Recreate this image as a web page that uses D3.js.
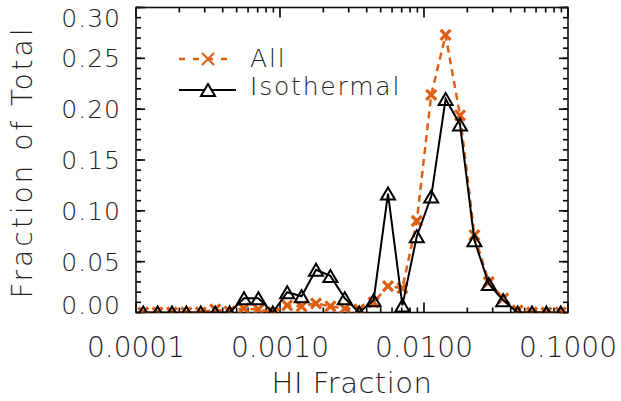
<!DOCTYPE html>
<html>
<head>
<meta charset="utf-8">
<script src="https://cdn.jsdelivr.net/npm/d3@7"></script>
<style>
  body { margin: 0; background: #fff; }
  text { font-family: "DejaVu Sans", sans-serif; font-weight: 200; fill: #222; }
</style>
</head>
<body>
<svg id="chart" width="621" height="401"></svg>
<script>
// log10 of HI fraction, bin centres (0.1 dex bins)
const logBins = [-3.95, -3.85, -3.75, -3.65, -3.55, -3.45, -3.35, -3.25, -3.15, -3.05,
                 -2.95, -2.85, -2.75, -2.65, -2.55, -2.45, -2.35, -2.25, -2.15, -2.05,
                 -1.95, -1.85, -1.75, -1.65, -1.55, -1.45, -1.35, -1.25, -1.15, -1.05];
const allFrac = [0, 0, 0, 0, 0, 0.003, 0.001, 0.004, 0.003, 0,
                 0.007, 0.006, 0.009, 0.006, 0.004, 0.003, 0.010, 0.026, 0.024, 0.090,
                 0.214, 0.273, 0.194, 0.076, 0.030, 0.014, 0.002, 0, 0, 0];
const isoFrac = [0, 0, 0, 0, 0, 0, 0, 0.014, 0.014, 0,
                 0.020, 0.016, 0.042, 0.036, 0.014, 0, 0.012, 0.117, 0.007, 0.075,
                 0.114, 0.210, 0.185, 0.071, 0.028, 0.012, 0, 0, 0, 0];
const xMajor = [0.0001, 0.001, 0.01, 0.1];
const yMajor = [0, 0.05, 0.10, 0.15, 0.20, 0.25, 0.30];

const ORANGE = "#dc6014";
const svg = d3.select("#chart");

const x = d3.scaleLog().domain([1e-4, 1e-1]).range([136, 568]);
const y = d3.scaleLinear().domain([0, 0.3]).range([312.5, 7.5]);
const [x0, x1] = x.range();
const [y0, y1] = y.range();

const xMinor = x.ticks().filter((v) => !xMajor.some((m) => Math.abs(v / m - 1) < 1e-6));
const yMinor = y.ticks(30);

// clip for data
svg.append("clipPath").attr("id", "plotclip")
  .append("rect")
  .attr("x", x0).attr("y", y1)
  .attr("width", x1 - x0)
  .attr("height", y0 - y1);

// tick marks on all four sides, pointing inward
const tickG = svg.append("g").attr("stroke", "#000").attr("stroke-width", 1.6);
function xTicks(values, len) {
  tickG.append("g").selectAll("line").data(values).join("line")
    .attr("x1", (d) => x(d)).attr("x2", (d) => x(d))
    .attr("y1", y0).attr("y2", y0 - len);
  tickG.append("g").selectAll("line").data(values).join("line")
    .attr("x1", (d) => x(d)).attr("x2", (d) => x(d))
    .attr("y1", y1).attr("y2", y1 + len);
}
function yTicks(values, len) {
  tickG.append("g").selectAll("line").data(values).join("line")
    .attr("y1", (d) => y(d)).attr("y2", (d) => y(d))
    .attr("x1", x0).attr("x2", x0 + len);
  tickG.append("g").selectAll("line").data(values).join("line")
    .attr("y1", (d) => y(d)).attr("y2", (d) => y(d))
    .attr("x1", x1).attr("x2", x1 - len);
}
xTicks(xMajor, 10);
xTicks(xMinor, 5);
yTicks(yMajor, 9);
yTicks(yMinor, 5);

svg.append("rect")
  .attr("x", x0).attr("y", y1)
  .attr("width", x1 - x0).attr("height", y0 - y1)
  .attr("fill", "none").attr("stroke", "#111").attr("stroke-width", 1.6);

// tick labels
svg.append("g").selectAll("text").data(xMajor).join("text")
  .attr("x", (d) => x(d)).attr("y", 357)
  .attr("text-anchor", "middle")
  .style("font-size", "28px")
  .text(d3.format(".4f"));

svg.append("g").selectAll("text").data(yMajor).join("text")
  .attr("x", 121)
  .attr("y", (d) => Math.max(18, Math.min(305, y(d))))
  .attr("dy", "0.36em")
  .attr("text-anchor", "end")
  .style("font-size", "25px")
  .style("letter-spacing", "1px")
  .text(d3.format(".2f"));

// axis titles
svg.append("text")
  .attr("x", 352).attr("y", 393)
  .attr("text-anchor", "middle")
  .style("font-size", "29px")
  .style("letter-spacing", "0.5px")
  .text("HI Fraction");

svg.append("text")
  .attr("transform", "translate(32,162) rotate(-90)")
  .attr("text-anchor", "middle")
  .style("font-size", "28px")
  .style("letter-spacing", "3px")
  .text("Fraction of Total");

// markers
const xMark = "M-5,-5L5,5M-5,5L5,-5";
const triMark = "M-7,6L0,-6L7,6Z";

const line = d3.line().x((d) => x(Math.pow(10, d[0]))).y((d) => y(d[1]));
const plot = svg.append("g").attr("clip-path", "url(#plotclip)");

const allPts = logBins.map((b, i) => [b, allFrac[i]]);
const isoPts = logBins.map((b, i) => [b, isoFrac[i]]);

plot.append("path").datum(allPts)
  .attr("d", line).attr("fill", "none")
  .attr("stroke", ORANGE).attr("stroke-width", 2.5)
  .attr("stroke-dasharray", "7,5");
plot.append("g").selectAll("path").data(allPts).join("path")
  .attr("transform", (d) => `translate(${x(Math.pow(10, d[0]))},${y(d[1])})`)
  .attr("d", xMark).attr("stroke", ORANGE).attr("stroke-width", 3.2).attr("fill", "none");

plot.append("path").datum(isoPts)
  .attr("d", line).attr("fill", "none")
  .attr("stroke", "#000").attr("stroke-width", 2);
plot.append("g").selectAll("path").data(isoPts).join("path")
  .attr("transform", (d) => `translate(${x(Math.pow(10, d[0]))},${y(d[1])})`)
  .attr("d", triMark).attr("stroke", "#000").attr("stroke-width", 2).attr("fill", "none");

// legend
const legend = svg.append("g");
legend.append("line").attr("x1", 179).attr("x2", 233).attr("y1", 59).attr("y2", 59)
  .attr("stroke", ORANGE).attr("stroke-width", 2.5).attr("stroke-dasharray", "6,8");
legend.append("path").attr("transform", "translate(208,59)").attr("d", "M-6,-6L6,6M-6,6L6,-6")
  .attr("stroke", ORANGE).attr("stroke-width", 2).attr("fill", "none");
legend.append("text").attr("x", 250).attr("y", 67)
  .style("font-size", "25px").style("letter-spacing", "1.8px").text("All");

legend.append("line").attr("x1", 179).attr("x2", 236).attr("y1", 90).attr("y2", 90)
  .attr("stroke", "#000").attr("stroke-width", 2);
legend.append("path").attr("transform", "translate(208,90)").attr("d", triMark)
  .attr("stroke", "#000").attr("stroke-width", 2).attr("fill", "#fff");
legend.append("text").attr("x", 250).attr("y", 95)
  .style("font-size", "25px").style("letter-spacing", "1.8px").text("Isothermal");
</script>
</body>
</html>
